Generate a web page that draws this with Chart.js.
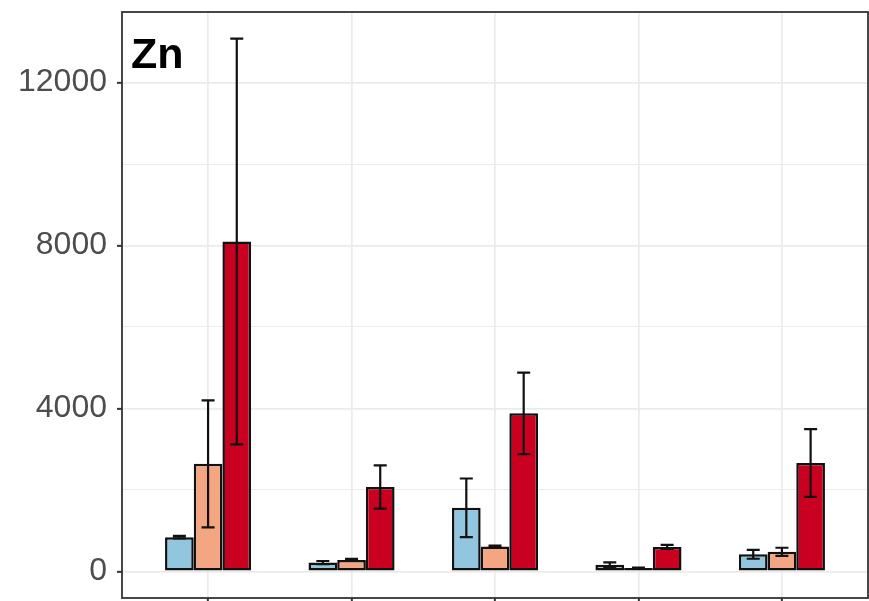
<!DOCTYPE html>
<html>
<head>
<meta charset="utf-8">
<title>Zn</title>
<script src="https://cdn.jsdelivr.net/npm/chart.js@4.4.1/dist/chart.umd.min.js"></script>
<style>
  html, body { margin: 0; padding: 0; background: #ffffff; }
  canvas { display: block; }
</style>
</head>
<body>
<canvas id="chart" width="869" height="601"></canvas>
<script>
// Sampling groups (positions 1..5 on the x axis; no labels are printed)
const categories = ['G1', 'G2', 'G3', 'G4', 'G5'];

// Mean Zn concentration per group, three treatment levels
const lowMean  = [840, 215, 1560, 160, 420];
const lowSd    = [30, 40, 720, 60, 110];
const midMean  = [2640, 280, 610, 80, 480];
const midSd    = [1560, 25, 20, 15, 100];
const highMean = [8100, 2070, 3880, 600, 2660];
const highSd   = [4980, 530, 1000, 50, 830];

// Y axis ticks: labelled majors and unlabelled minors
const yMajorTicks = [0, 4000, 8000, 12000];
const yMinorTicks = [2000, 6000, 10000];

const toPoints = arr => arr.map((v, i) => ({ x: i + 1, y: v }));

Chart.defaults.font.family = '"Liberation Sans", Arial, sans-serif';

// whisker lines on each bar: mean ± sd
const errorBars = {
  id: 'errorBars',
  afterDatasetsDraw(chart) {
    const { ctx, scales: { y } } = chart;
    ctx.save();
    ctx.strokeStyle = '#111111';
    ctx.lineWidth = 2.2;
    chart.data.datasets.forEach((ds, di) => {
      const meta = chart.getDatasetMeta(di);
      meta.data.forEach((bar, i) => {
        const m = ds.data[i].y;
        const e = ds.sd[i];
        const yTop = y.getPixelForValue(m + e);
        const yBot = y.getPixelForValue(m - e);
        const half = 6.5;
        ctx.beginPath();
        ctx.moveTo(bar.x, yTop); ctx.lineTo(bar.x, yBot);
        ctx.moveTo(bar.x - half, yTop); ctx.lineTo(bar.x + half, yTop);
        ctx.moveTo(bar.x - half, yBot); ctx.lineTo(bar.x + half, yBot);
        ctx.stroke();
      });
    });
    ctx.restore();
  }
};

// panel frame and the element label in the top-left corner
const panelFrame = {
  id: 'panelFrame',
  afterDraw(chart) {
    const { ctx, chartArea: a } = chart;
    ctx.save();
    ctx.strokeStyle = '#333333';
    ctx.lineWidth = 1.8;
    ctx.strokeRect(a.left, a.top, a.right - a.left, a.bottom - a.top);
    ctx.fillStyle = '#000000';
    ctx.font = 'bold 43px "Liberation Sans", Arial, sans-serif';
    ctx.textBaseline = 'alphabetic';
    ctx.textAlign = 'left';
    ctx.fillText('Zn', 131, 68);
    ctx.restore();
  }
};

const barStyle = {
  borderColor: '#111111',
  borderWidth: 2.5,
  borderSkipped: false,
  categoryPercentage: 0.6,
  barPercentage: 1.0
};

new Chart(document.getElementById('chart'), {
  type: 'bar',
  data: {
    datasets: [
      Object.assign({ label: 'low',  data: toPoints(lowMean),  sd: lowSd,  backgroundColor: '#92c5de' }, barStyle),
      Object.assign({ label: 'mid',  data: toPoints(midMean),  sd: midSd,  backgroundColor: '#f4a582' }, barStyle),
      Object.assign({ label: 'high', data: toPoints(highMean), sd: highSd, backgroundColor: '#ca0020' }, barStyle)
    ]
  },
  options: {
    responsive: false,
    animation: false,
    layout: { padding: { left: 0, top: 12, right: 1, bottom: 0 } },
    plugins: {
      legend: { display: false },
      tooltip: { enabled: false },
      title: { display: false }
    },
    scales: {
      x: {
        type: 'linear',
        min: 0.4,
        max: 5.6,
        offset: false,
        afterBuildTicks: s => { s.ticks = categories.map((c, i) => ({ value: i + 1 })); },
        afterFit: s => {
          s.height = 3;
          s.paddingLeft = 0; s.paddingRight = 0;
        },
        ticks: { display: false },
        border: { display: false },
        grid: {
          offset: false,
          color: '#ebebeb',
          lineWidth: 1.7,
          drawTicks: true,
          tickLength: 3,
          tickColor: '#333333',
          tickWidth: 2
        }
      },
      y: {
        type: 'linear',
        min: -654,
        max: 13734,
        afterBuildTicks: s => {
          s.ticks = yMajorTicks.concat(yMinorTicks).sort((a, b) => a - b).map(v => ({ value: v }));
        },
        afterFit: s => {
          s.width = 122;
          s.paddingTop = 0; s.paddingBottom = 0;
        },
        border: { display: false },
        ticks: {
          color: '#4d4d4d',
          font: { size: 32 },
          padding: 10,
          callback: v => (yMajorTicks.includes(v) ? String(v) : '')
        },
        grid: {
          offset: false,
          color: '#ebebeb',
          lineWidth: c => (c.tick && yMajorTicks.includes(c.tick.value) ? 1.7 : 1),
          drawTicks: true,
          tickLength: 5,
          tickWidth: 2,
          tickColor: c => (c.tick && yMajorTicks.includes(c.tick.value) ? '#333333' : 'rgba(0,0,0,0)')
        }
      }
    }
  },
  plugins: [errorBars, panelFrame]
});
</script>
</body>
</html>
